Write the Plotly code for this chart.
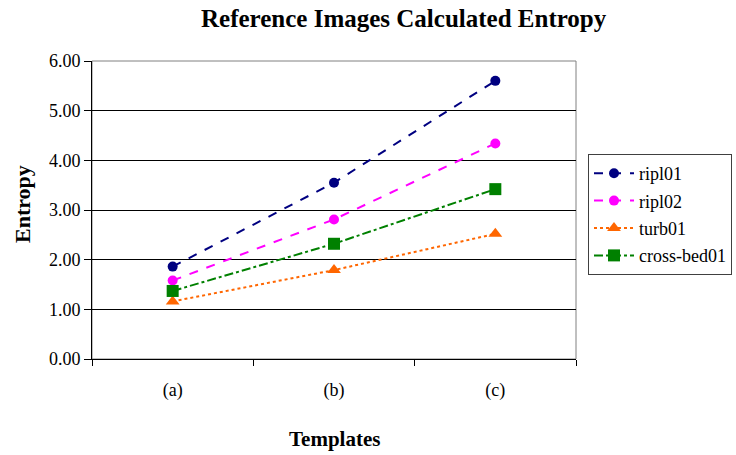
import plotly.graph_objects as go

categories = ["(a)", "(b)", "(c)"]
ripl01 = [1.86, 3.55, 5.60]
ripl02 = [1.58, 2.81, 4.34]
turb01 = [1.16, 1.79, 2.52]
crossbed01 = [1.37, 2.32, 3.42]
y_ticks = [0, 1, 2, 3, 4, 5, 6]
y_ticklabels = ["0.00", "1.00", "2.00", "3.00", "4.00", "5.00", "6.00"]

FONT = "Liberation Serif"

series = [
    ("ripl01", ripl01, "#000080", "dash", "circle", 10),
    ("ripl02", ripl02, "#FF00FF", "dash", "circle", 10),
    ("turb01", turb01, "#FF6600", "dot", "triangle-up", 12),
    ("cross-bed01", crossbed01, "#008000", "dashdot", "square", 12),
]

fig = go.Figure()
for name, vals, color, dash, sym, size in series:
    fig.add_trace(go.Scatter(
        x=categories, y=vals, name=name, mode="lines+markers",
        legendgroup=name,
        line=dict(color=color, dash=dash, width=2),
        marker=dict(symbol=sym, size=size, color=color),
    ))

fig.update_layout(
    width=736, height=455,
    margin=dict(l=92, r=160, t=61, b=96, autoexpand=False),
    paper_bgcolor="white", plot_bgcolor="white",
    font=dict(family=FONT, size=18, color="black"),
    showlegend=True,
    legend=dict(
        x=(588 - 92) / 484, y=(359 - 154) / 298, xanchor="left", yanchor="top",
        bordercolor="#404040", borderwidth=1,
        font=dict(family=FONT, size=18, color="black"),
        traceorder="grouped", tracegroupgap=1, itemwidth=40,
    ),
    xaxis=dict(
        type="category", range=[-0.5, 2.5], tickson="boundaries",
        ticks="outside", ticklen=6, tickcolor="black",
        showline=True, linecolor="black", linewidth=1,
        showgrid=False, zeroline=False, ticklabelstandoff=14,
        tickfont=dict(family=FONT, size=18, color="black"),
    ),
    yaxis=dict(
        range=[0, 6], tickvals=y_ticks, ticktext=y_ticklabels,
        ticks="outside", ticklen=7, tickcolor="black",
        showline=True, linecolor="black", linewidth=1,
        showgrid=True, gridcolor="black", gridwidth=1,
        zeroline=False, tickfont=dict(family=FONT, size=18, color="black"),
    ),
    shapes=[dict(type="rect", xref="paper", yref="paper", x0=0, x1=1, y0=0, y1=1,
                 line=dict(color="#808080", width=1), layer="below")],
    annotations=[
        dict(text="<b>Reference Images Calculated Entropy</b>", xref="paper", yref="paper",
             x=(404 - 92) / 484, y=(359 - 18) / 298, xanchor="center", yanchor="middle",
             showarrow=False, font=dict(family=FONT, size=25, color="black")),
        dict(text="<b>Entropy</b>", xref="paper", yref="paper",
             x=(22 - 92) / 484, y=(359 - 204) / 298, xanchor="center", yanchor="middle",
             textangle=-90, showarrow=False, font=dict(family=FONT, size=22, color="black")),
        dict(text="<b>Templates</b>", xref="paper", yref="paper",
             x=(334 - 92) / 484, y=(359 - 439) / 298, xanchor="center", yanchor="middle",
             showarrow=False, font=dict(family=FONT, size=21, color="black")),
    ],
)

fig.write_html("out.html")
